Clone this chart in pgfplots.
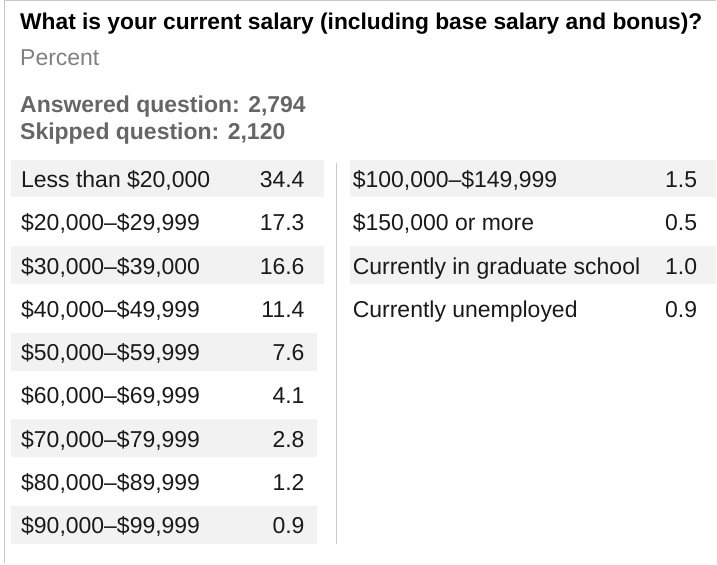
\documentclass[border=0pt]{standalone}
\usepackage{pgfplots}
\pgfplotsset{compat=1.18}
\usepackage{fontspec}
\setmainfont{Liberation Sans}
\definecolor{rowbg}{HTML}{F2F2F2}
\definecolor{framec}{HTML}{C8C8C8}
\definecolor{subgray}{HTML}{808080}
\definecolor{boldgray}{HTML}{666666}
\definecolor{txt}{HTML}{1A1A1A}
\newcommand{\rowfont}{\fontsize{23}{27}\selectfont}
\begin{document}
\begin{tikzpicture}
\begin{axis}[
  width=717pt, height=564pt, scale only axis,
  xmin=0, xmax=717, ymin=0, ymax=564, y dir=reverse,
  hide axis, clip=false,
  point meta=explicit symbolic,
  nodes near coords,
  every node near coord/.append style={inner sep=0pt, text=txt, font=\rowfont},
]
% frame and background
\path (axis cs:0,0) rectangle (axis cs:717,564);
\draw[framec, line width=1.5pt] (axis cs:4.5,564) -- (axis cs:4.5,0.75) -- (axis cs:717,0.75);
% row shading
\fill[rowbg] (axis cs:11,160) rectangle (axis cs:324,197.7);
\fill[rowbg] (axis cs:11,246.6) rectangle (axis cs:324,284.3);
\fill[rowbg] (axis cs:11,333.2) rectangle (axis cs:317,370.9);
\fill[rowbg] (axis cs:11,419.8) rectangle (axis cs:317,457.5);
\fill[rowbg] (axis cs:11,506.4) rectangle (axis cs:317,544.1);
\fill[rowbg] (axis cs:350,160) rectangle (axis cs:717,197.7);
\fill[rowbg] (axis cs:350,246.6) rectangle (axis cs:717,284.3);
% separator
\draw[framec, line width=1.5pt] (axis cs:337,163) -- (axis cs:337,545);
% titles
\node[anchor=base west, inner sep=0pt, font=\fontsize{22.8}{27}\selectfont\bfseries, text=black] at (axis cs:20,30) {What is your current salary (including base salary and bonus)?};
\node[anchor=base west, inner sep=0pt, font=\rowfont, text=subgray] at (axis cs:20,66) {Percent};
\node[anchor=base west, inner sep=0pt, font=\fontsize{23}{27}\selectfont\bfseries, text=boldgray] at (axis cs:20,113) {Answered question: 2,794};
\node[anchor=base west, inner sep=0pt, font=\fontsize{23}{27}\selectfont\bfseries, text=boldgray] at (axis cs:20,140) {Skipped question: 2,120};
% left column labels
\addplot[only marks, mark=none, every node near coord/.append style={anchor=base west}] coordinates {
 (21,187.7) [Less than \$20,000]
 (21,231.0) [\$20,000\textendash\$29,999]
 (21,274.3) [\$30,000\textendash\$39,000]
 (21,317.6) [\$40,000\textendash\$49,999]
 (21,360.9) [\$50,000\textendash\$59,999]
 (21,404.2) [\$60,000\textendash\$69,999]
 (21,447.5) [\$70,000\textendash\$79,999]
 (21,490.8) [\$80,000\textendash\$89,999]
 (21,534.1) [\$90,000\textendash\$99,999]
};
% left column values
\addplot[only marks, mark=none, every node near coord/.append style={anchor=base east}] coordinates {
 (305,187.7) [34.4]
 (305,231.0) [17.3]
 (305,274.3) [16.6]
 (305,317.6) [11.4]
 (305,360.9) [7.6]
 (305,404.2) [4.1]
 (305,447.5) [2.8]
 (305,490.8) [1.2]
 (305,534.1) [0.9]
};
% right column labels
\addplot[only marks, mark=none, every node near coord/.append style={anchor=base west}] coordinates {
 (353,187.7) [\$100,000\textendash\$149,999]
 (353,231.0) [\$150,000 or more]
 (353,274.3) [Currently in graduate school]
 (353,317.6) [Currently unemployed]
};
% right column values
\addplot[only marks, mark=none, every node near coord/.append style={anchor=base east}] coordinates {
 (698,187.7) [1.5]
 (698,231.0) [0.5]
 (698,274.3) [1.0]
 (698,317.6) [0.9]
};
\end{axis}
\end{tikzpicture}
\end{document}
